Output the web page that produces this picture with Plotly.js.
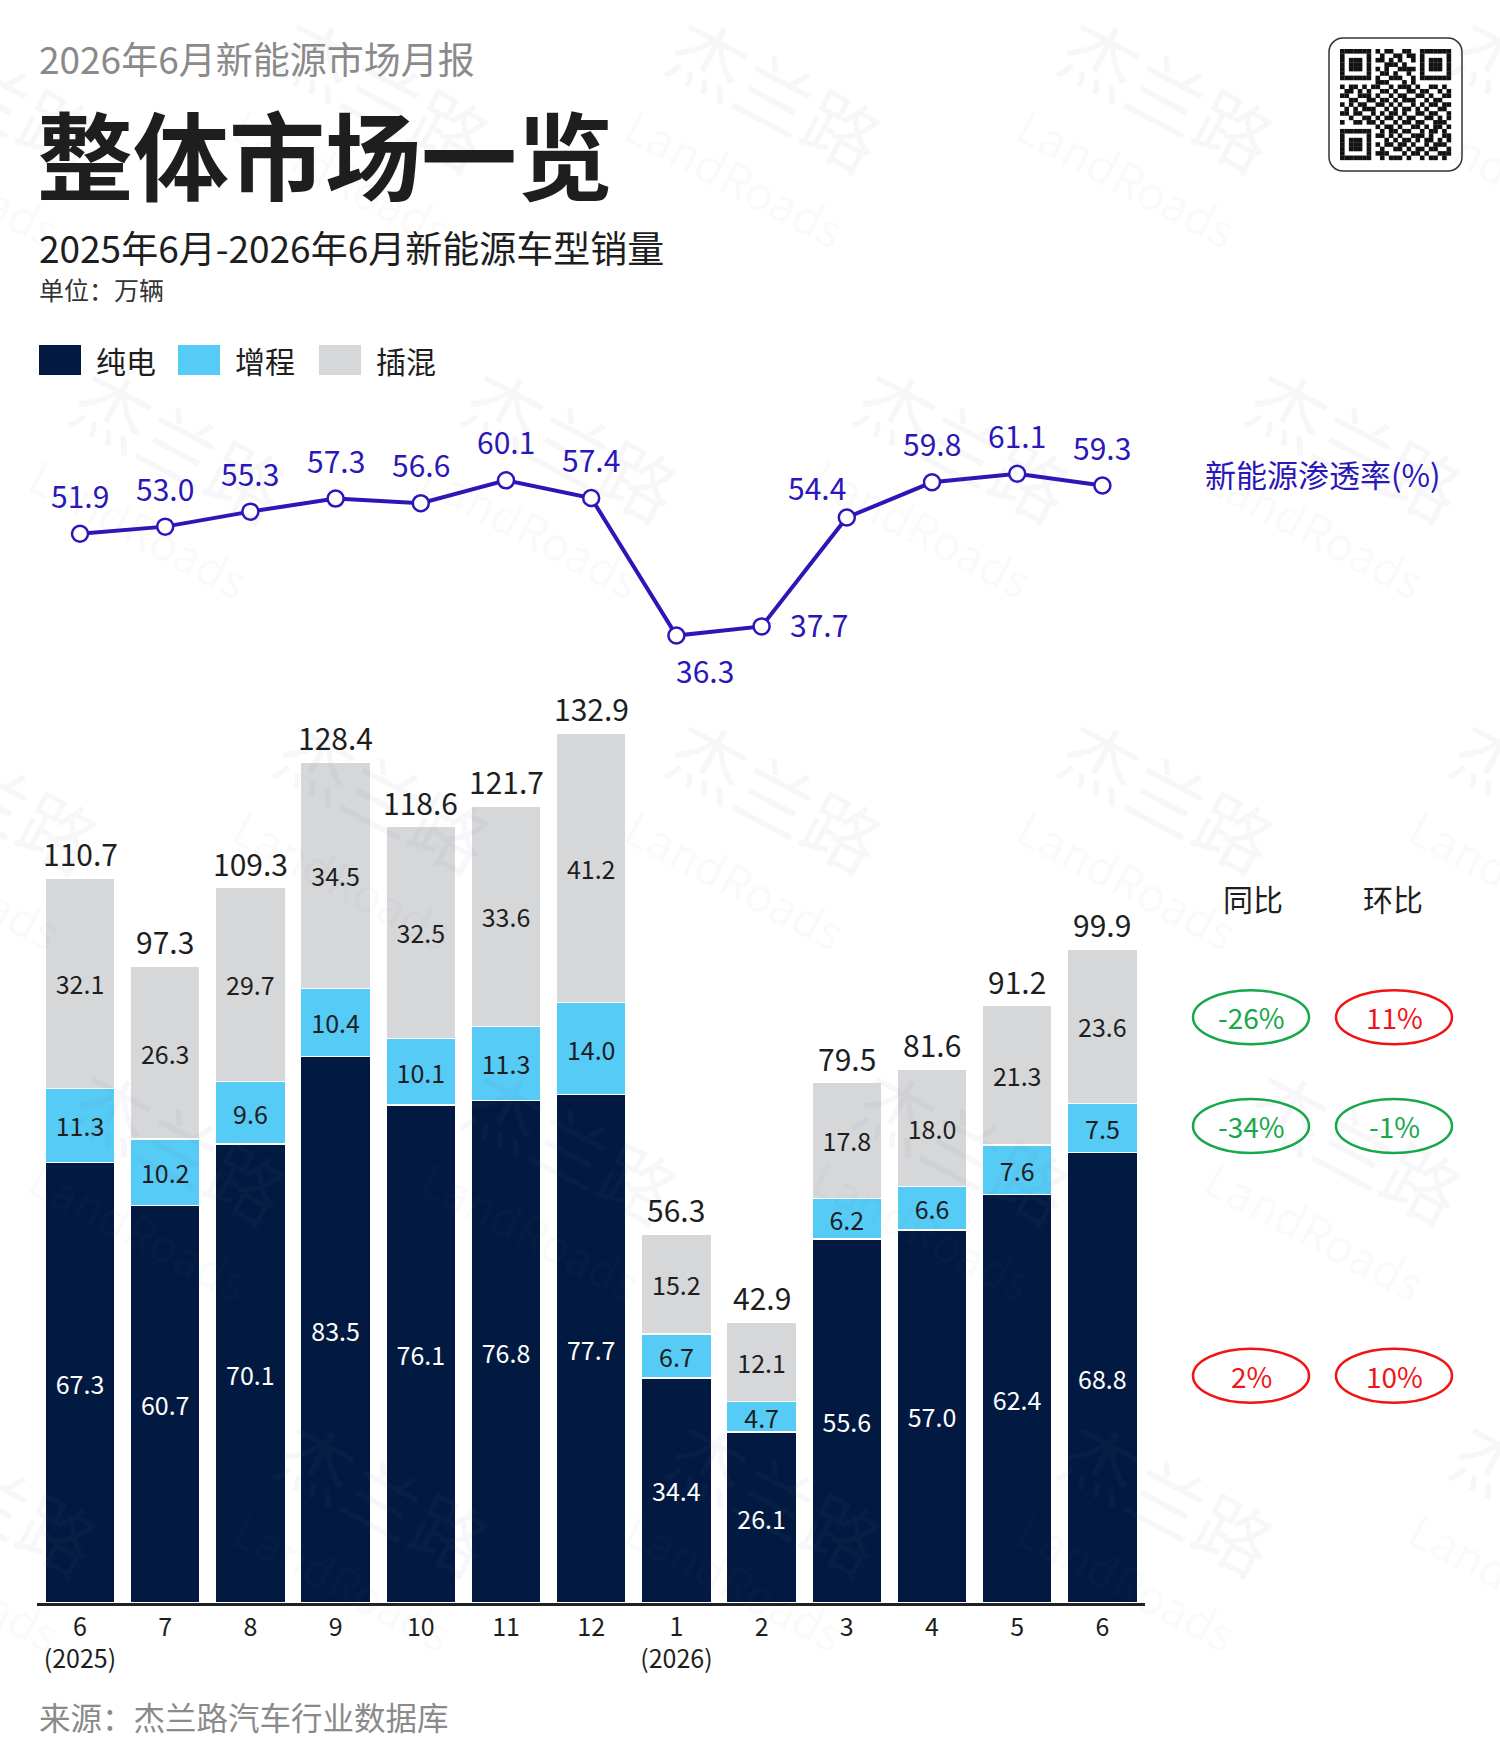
<!DOCTYPE html>
<html>
<head>
<meta charset="utf-8">
<script src="https://cdn.plot.ly/plotly-3.0.1.min.js"></script>
<style>
  html, body { margin: 0; padding: 0; background: #fff; }
  #chart { width: 1500px; height: 1760px; }
</style>
</head>
<body>
<div id="chart"></div>
<script>
// Monthly NEV sales, 10k units
const monthLabels = ['6<br>(2025)', '7', '8', '9', '10', '11', '12', '1<br>(2026)', '2', '3', '4', '5', '6'];
const bevSales = [67.3, 60.7, 70.1, 83.5, 76.1, 76.8, 77.7, 34.4, 26.1, 55.6, 57.0, 62.4, 68.8];
const erevSales = [11.3, 10.2, 9.6, 10.4, 10.1, 11.3, 14.0, 6.7, 4.7, 6.2, 6.6, 7.6, 7.5];
const phevSales = [32.1, 26.3, 29.7, 34.5, 32.5, 33.6, 41.2, 15.2, 12.1, 17.8, 18.0, 21.3, 23.6];
const totalSales = [110.7, 97.3, 109.3, 128.4, 118.6, 121.7, 132.9, 56.3, 42.9, 79.5, 81.6, 91.2, 99.9];
const penetrationRate = [51.9, 53.0, 55.3, 57.3, 56.6, 60.1, 57.4, 36.3, 37.7, 54.4, 59.8, 61.1, 59.3];

// Latest month change, %, rows: 插混 / 增程 / 纯电
const changeRows = ['插混', '增程', '纯电'];
const yoyChange = [-26, -34, 2];
const momChange = [11, -1, 10];

const COLORS = {
    bev: '#021a41',
    erev: '#55cbf6',
    phev: '#d6d7d9',
    line: '#2b17b8',
    dark: '#1e1e1e',
    grey: '#8a8a8a',
    up: '#f01414',
    down: '#16a84a'
};
const FONT = "'Noto Sans CJK SC', 'Noto Sans', sans-serif";

const W = 1500, H = 1760;
const px = v => v / W;          // pixel -> paper x
const py = v => 1 - v / H;      // pixel -> paper y

const idx = monthLabels.map((_, i) => i);

function barTrace(name, values, color, textColor) {
    return {
        type: 'bar',
        name: name,
        x: idx,
        y: values,
        text: values.map(v => v.toFixed(1)),
        textposition: 'inside',
        insidetextanchor: 'middle',
        constraintext: 'none',
        textangle: 0,
        textfont: { family: FONT, size: 25, color: textColor },
        marker: { color: color, line: { color: '#ffffff', width: 1.5 } },
        hoverinfo: 'skip'
    };
}

const traces = [
    barTrace('纯电', bevSales, COLORS.bev, '#ffffff'),
    barTrace('增程', erevSales, COLORS.erev, COLORS.dark),
    barTrace('插混', phevSales, COLORS.phev, COLORS.dark),
    {
        type: 'scatter',
        mode: 'lines+markers',
        x: idx,
        y: penetrationRate,
        yaxis: 'y2',
        line: { color: COLORS.line, width: 4 },
        marker: { size: 16, color: '#ffffff', line: { color: COLORS.line, width: 2.5 } },
        cliponaxis: false,
        hoverinfo: 'skip'
    }
];

const annotations = [];
const shapes = [];

function label(text, x, y, size, color, opts) {
    annotations.push(Object.assign({
        xref: 'paper', yref: 'paper', x: px(x), y: py(y),
        xanchor: 'left', yanchor: 'middle', showarrow: false,
        text: text, font: { family: FONT, size: size, color: color }
    }, opts || {}));
}

// Watermark tiles (drawn first so they sit under the other texts)
const wmRows = [96, 447, 798, 1149, 1500];
wmRows.forEach((wy, r) => {
    const xs = r % 2 === 0 ? [-19, 373, 765, 1157, 1549] : [169, 561, 953, 1345];
    xs.forEach(wx => {
        const wmFont = size => ({ family: FONT, size: size, color: 'rgba(110,115,140,0.055)' });
        annotations.push({
            xref: 'paper', yref: 'paper', x: px(wx + 12), y: py(wy - 4), textangle: 28,
            xanchor: 'center', yanchor: 'middle', showarrow: false,
            text: '杰兰路', font: wmFont(76)
        });
        annotations.push({
            xref: 'paper', yref: 'paper', x: px(wx - 30), y: py(wy + 80), textangle: 28,
            xanchor: 'center', yanchor: 'middle', showarrow: false,
            text: 'LandRoads', font: wmFont(46)
        });
    });
});

// Header
label('2026年6月新能源市场月报', 37, 58, 37, COLORS.grey);
label('整体市场一览', 35, 151, 96, COLORS.dark, { font: { family: FONT, size: 96, color: COLORS.dark, weight: 700 } });
label('2025年6月-2026年6月新能源车型销量', 37, 247, 37, COLORS.dark);
label('单位：万辆', 37, 289, 25, '#333333');
label('来源：杰兰路汽车行业数据库', 37, 1716, 31.5, COLORS.grey);

// Legend
const legendItems = [
    { name: '纯电', color: COLORS.bev, x: 39 },
    { name: '增程', color: COLORS.erev, x: 178 },
    { name: '插混', color: COLORS.phev, x: 319 }
];
legendItems.forEach(item => {
    shapes.push({
        type: 'rect', xref: 'paper', yref: 'paper',
        x0: px(item.x), x1: px(item.x + 42), y0: py(345), y1: py(375),
        fillcolor: item.color, line: { width: 0 }
    });
    label(item.name, item.x + 55, 360, 30, COLORS.dark);
});

// Line labels: default above the marker, a few nudged around the dip
const lineOffsets = { 7: [29, -34], 8: [57, 2], 9: [-30, 31] };
penetrationRate.forEach((v, i) => {
    const off = lineOffsets[i] || [0, 39];
    annotations.push({
        xref: 'x', yref: 'y2', x: i, y: v, xshift: off[0], yshift: off[1],
        xanchor: 'center', yanchor: 'middle', showarrow: false,
        text: v.toFixed(1), font: { family: FONT, size: 30, color: COLORS.line }
    });
});
label('新能源渗透率(%)', 1203, 474, 31, COLORS.line);

// Totals above the bars
totalSales.forEach((v, i) => {
    annotations.push({
        xref: 'x', yref: 'y', x: i, y: v, yshift: 1,
        xanchor: 'center', yanchor: 'bottom', showarrow: false,
        text: v.toFixed(1), font: { family: FONT, size: 30, color: COLORS.dark }
    });
});

// YoY / MoM badges aligned with the last bar's segments
label('同比', 1253, 898, 30, COLORS.dark, { xanchor: 'center' });
label('环比', 1393, 898, 30, COLORS.dark, { xanchor: 'center' });
const last = monthLabels.length - 1;
const segMid = {
    '纯电': bevSales[last] / 2,
    '增程': bevSales[last] + erevSales[last] / 2,
    '插混': bevSales[last] + erevSales[last] + phevSales[last] / 2
};
const badgeShift = [9, 2, 2];
function badge(value, cx, yVal, shift) {
    const color = value < 0 ? COLORS.down : COLORS.up;
    shapes.push({
        type: 'circle', xref: 'paper', yref: 'y',
        xsizemode: 'pixel', ysizemode: 'pixel',
        xanchor: px(cx), yanchor: yVal,
        x0: -58, x1: 58, y0: -27 + shift, y1: 27 + shift,
        line: { color: color, width: 2.5 }, fillcolor: 'rgba(0,0,0,0)'
    });
    annotations.push({
        xref: 'paper', yref: 'y', x: px(cx), y: yVal, yshift: shift,
        xanchor: 'center', yanchor: 'middle', showarrow: false,
        text: value + '%', font: { family: FONT, size: 28, color: color }
    });
}
changeRows.forEach((row, r) => {
    badge(yoyChange[r], 1251, segMid[row], badgeShift[r]);
    badge(momChange[r], 1394, segMid[row], badgeShift[r]);
});

// QR-code style badge (decorative)
const qrRows = [
    '1111111010110011001111111',
    '1000001001001101101000001',
    '1011101011010100101011101',
    '1011101000111010001011101',
    '1011101010100111101011101',
    '1000001001101001001000001',
    '1111111010011100101111111',
    '0000000011100010100000000',
    '1011010110010111010011010',
    '0110101001101001101100101',
    '1100111010010110011010011',
    '0011001101101011100101100',
    '1010110011010100101011011',
    '0101011100101011010100110',
    '1101100101011010011011001',
    '0010011010110101100110101',
    '1001101101001011011001110',
    '0000000010110100110101101',
    '1111111001011011001011010',
    '1000001011010100111010011',
    '1011101000101011010110101',
    '1011101010110110100101110',
    '1011101001001101011011001',
    '1000001011100010110100111',
    '1111111001011101001011010'
];
let qrCells = '';
qrRows.forEach((row, r) => {
    row.split('').forEach((c, k) => {
        if (c === '1') qrCells += `<rect x="${12 + k * 4.44}" y="${12 + r * 4.44}" width="4.6" height="4.6"/>`;
    });
});
const qrSvg = `<svg xmlns="http://www.w3.org/2000/svg" width="135" height="135" viewBox="0 0 135 135">` +
    `<rect x="1" y="1" width="133" height="133" rx="14" ry="14" fill="#fff" stroke="#333" stroke-width="1.5"/>` +
    `<g fill="#111">${qrCells}</g></svg>`;

const layout = {
    width: W,
    height: H,
    paper_bgcolor: '#ffffff',
    plot_bgcolor: 'rgba(0,0,0,0)',
    margin: { t: 0, b: 0, l: 0, r: 0 },
    showlegend: false,
    barmode: 'stack',
    bargap: 0.18,
    hovermode: false,
    font: { family: FONT, color: COLORS.dark },
    xaxis: {
        domain: [px(37.4), px(1145)],
        range: [-0.5, 12.5],
        tickmode: 'array',
        tickvals: idx,
        ticktext: monthLabels,
        tickfont: { family: FONT, size: 25, color: COLORS.dark },
        showgrid: false,
        zeroline: false,
        showline: true,
        linecolor: '#222222',
        linewidth: 2.5,
        ticks: '',
        fixedrange: true
    },
    yaxis: {
        domain: [157 / H, 1380 / H],
        range: [0, 186.83],
        visible: false,
        fixedrange: true
    },
    yaxis2: {
        overlaying: 'y',
        range: [-112.09, 75.49],
        visible: false,
        fixedrange: true
    },
    shapes: shapes,
    annotations: annotations,
    images: [{
        source: 'data:image/svg+xml;base64,' + btoa(qrSvg),
        xref: 'paper', yref: 'paper',
        x: px(1328), y: py(37), sizex: 135 / W, sizey: 135 / H,
        xanchor: 'left', yanchor: 'top', sizing: 'stretch', layer: 'above'
    }]
};

Plotly.newPlot('chart', traces, layout, { displayModeBar: false, staticPlot: true });
</script>
</body>
</html>
